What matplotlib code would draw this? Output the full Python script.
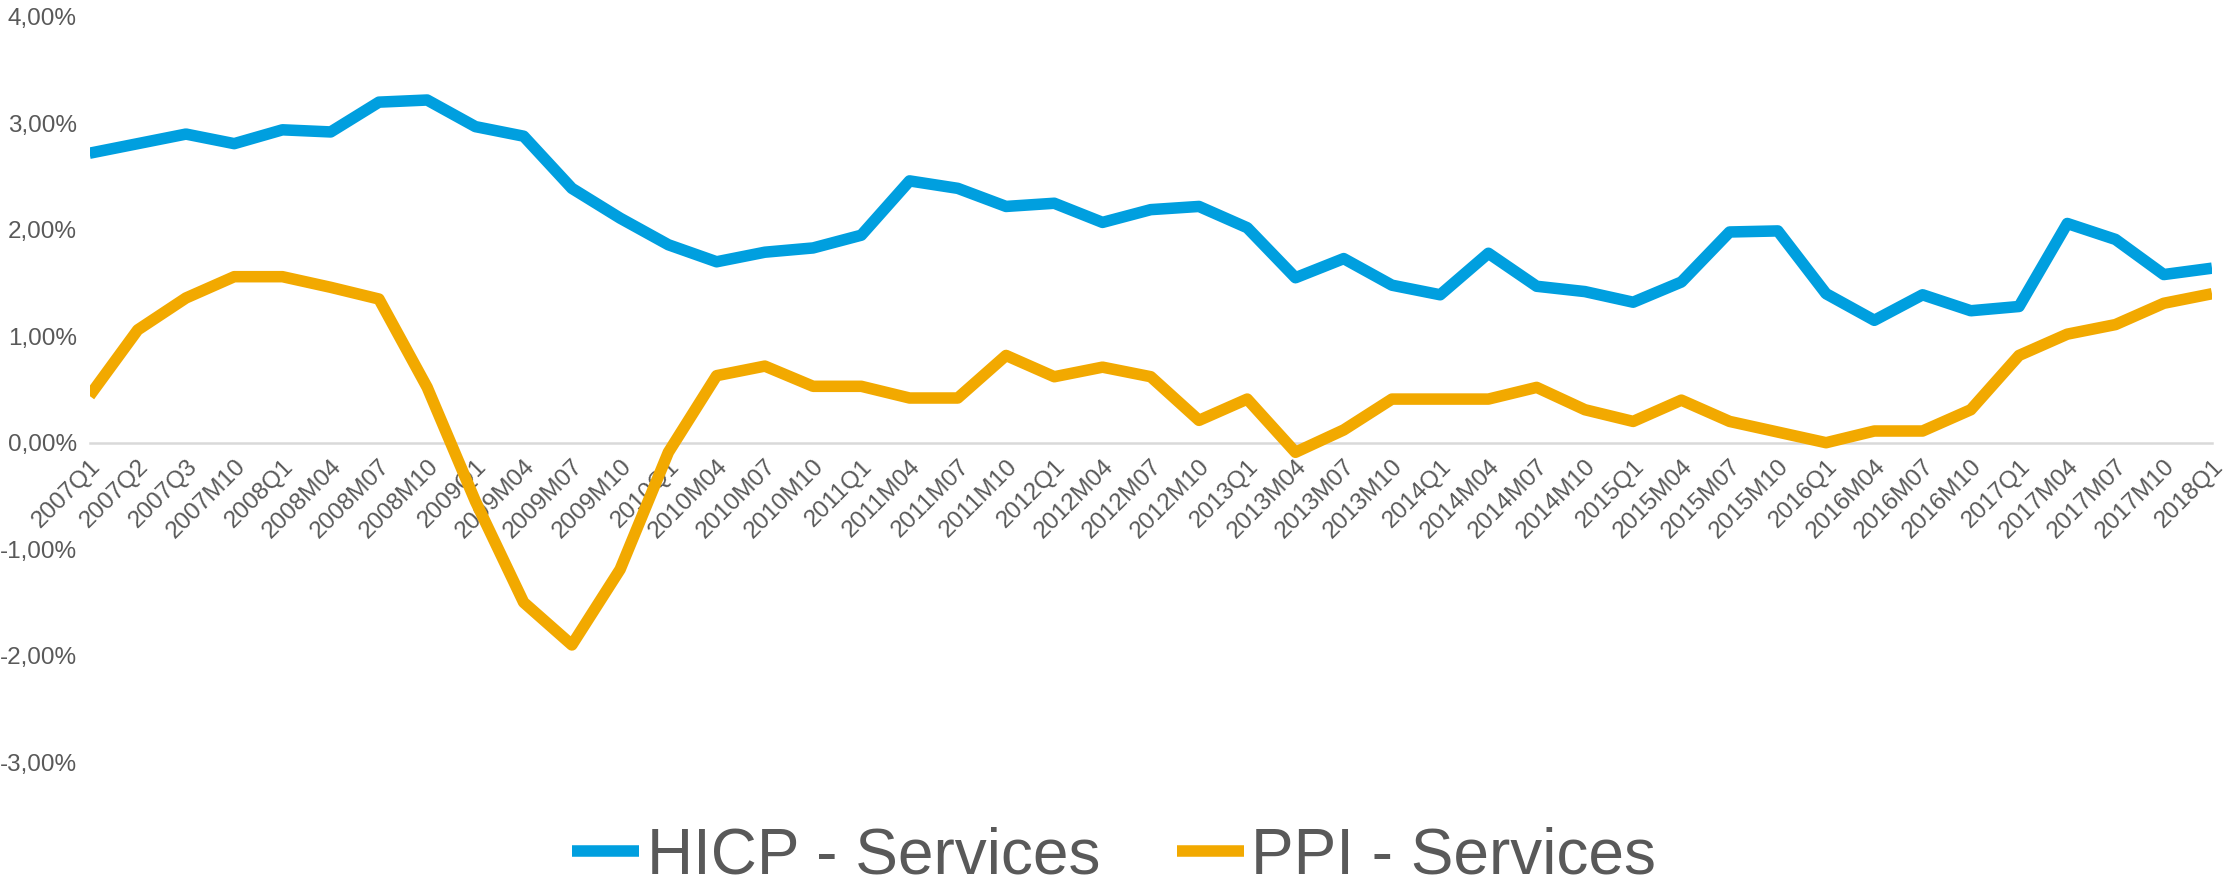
import matplotlib
matplotlib.use("Agg")
import matplotlib.pyplot as plt
from matplotlib.ticker import FuncFormatter

plt.rcParams['font.family'] = ['Liberation Sans', 'DejaVu Sans']

periods = ["2007Q1", "2007Q2", "2007Q3", "2007M10"]
for yr in range(2008, 2018):
    periods += [f"{yr}Q1", f"{yr}M04", f"{yr}M07", f"{yr}M10"]
periods += ["2018Q1"]

hicp_services = [2.72, 2.81, 2.90, 2.81, 2.94, 2.92, 3.20, 3.22, 2.97, 2.88,
                 2.39, 2.11, 1.86, 1.70, 1.79, 1.83, 1.95, 2.46, 2.39, 2.22,
                 2.25, 2.07, 2.19, 2.22, 2.02, 1.55, 1.73, 1.48, 1.39, 1.78,
                 1.47, 1.42, 1.32, 1.51, 1.98, 1.99, 1.40, 1.15, 1.39, 1.24,
                 1.28, 2.06, 1.91, 1.58, 1.64]
ppi_services = [0.44, 1.06, 1.36, 1.56, 1.56, 1.46, 1.35, 0.52, -0.55, -1.50,
                -1.90, -1.19, -0.09, 0.63, 0.72, 0.53, 0.53, 0.42, 0.42, 0.82,
                0.62, 0.71, 0.62, 0.21, 0.41, -0.09, 0.12, 0.41, 0.41, 0.41,
                0.52, 0.31, 0.20, 0.40, 0.20, 0.10, 0.00, 0.11, 0.11, 0.31,
                0.82, 1.02, 1.11, 1.31, 1.40]
series_names = ["HICP - Services", "PPI - Services"]
colors = ["#009FDF", "#F2A900"]
yticks = [-3, -2, -1, 0, 1, 2, 3, 4]

W, H = 2228, 882
fig = plt.figure(figsize=(W / 100, H / 100), dpi=100)
ax = fig.add_axes([89.5 / W, (H - 762) / H, (2212 - 89.5) / W, (762 - 17) / H])

for s in ['top', 'right', 'left']:
    ax.spines[s].set_visible(False)
ax.spines['bottom'].set_position(('data', 0))
ax.spines['bottom'].set_color('#D9D9D9')
ax.spines['bottom'].set_linewidth(1.8)
ax.spines['bottom'].set_zorder(1)

x = list(range(len(periods)))
lines = []
for vals, name, c in zip([hicp_services, ppi_services], series_names, colors):
    ln, = ax.plot(x, vals, color=c, lw=8.3, label=name,
                  solid_joinstyle='round', solid_capstyle='butt', zorder=3)
    lines.append(ln)

ax.set_xlim(0, len(periods) - 1)
ax.set_ylim(-3, 4)
ax.set_yticks(yticks)
ax.yaxis.set_major_formatter(FuncFormatter(lambda v, p: f"{v:.2f}".replace('.', ',') + "%"))
ax.set_xticks(x)
ax.set_xticklabels(periods, rotation=45, ha='right', rotation_mode='anchor')

ax.tick_params(axis='y', length=0, pad=9, labelsize=17.5, labelcolor='#595959')
ax.tick_params(axis='x', length=0, pad=9, labelsize=17.5, labelcolor='#595959')

leg = fig.legend(handles=lines, labels=series_names, loc='center',
                 bbox_to_anchor=(0.5, (H - 856) / H), ncol=2, frameon=False,
                 fontsize=46, handlelength=1.05, handletextpad=0.12,
                 columnspacing=1.2, borderaxespad=0, borderpad=0)
for t in leg.get_texts():
    t.set_color('#595959')

fig.savefig("out.png", dpi=100)
